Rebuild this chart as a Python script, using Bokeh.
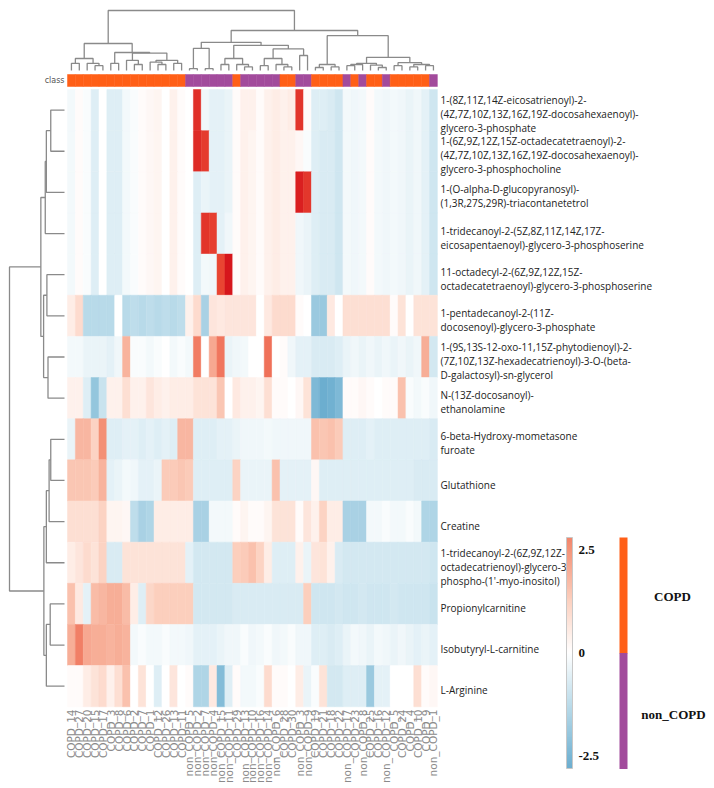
import numpy as np
from math import pi
from bokeh.plotting import figure
from bokeh.models import Range1d, ColumnDataSource, LinearColorMapper, ColorBar, FixedTicker
from bokeh.core.properties import value
from bokeh.embed import file_html
from bokeh.resources import INLINE

# ---- data -------------------------------------------------------------
samples = [
    "COPD_14", "COPD_27", "COPD_20", "COPD_15", "COPD_17", "COPD_3", "COPD_8", "COPD_6",
    "COPD_2", "COPD_7", "COPD_1", "COPD_12", "COPD_26", "COPD_13", "COPD_11",
    "non_COPD_5", "non_COPD_2", "non_COPD_7", "non_COPD_4", "non_COPD_15", "non_COPD_11",
    "COPD_29", "non_COPD_13", "non_COPD_10", "non_COPD_16", "non_COPD_14", "non_COPD_6",
    "COPD_28", "COPD_30", "non_COPD_3", "non_COPD_9", "COPD_19", "COPD_21", "COPD_18",
    "COPD_22", "non_COPD_17", "COPD_23", "non_COPD_8", "COPD_25", "COPD_16", "non_COPD_12",
    "COPD_5", "COPD_24", "COPD_4", "COPD_10", "COPD_9", "non_COPD_1",
]
groups = ["non_COPD" if s.startswith("non") else "COPD" for s in samples]

metabolites = [
    "1-(8Z,11Z,14Z-eicosatrienoyl)-2-\n(4Z,7Z,10Z,13Z,16Z,19Z-docosahexaenoyl)-\nglycero-3-phosphate",
    "1-(6Z,9Z,12Z,15Z-octadecatetraenoyl)-2-\n(4Z,7Z,10Z,13Z,16Z,19Z-docosahexaenoyl)-\nglycero-3-phosphocholine",
    "1-(O-alpha-D-glucopyranosyl)-\n(1,3R,27S,29R)-triacontanetetrol",
    "1-tridecanoyl-2-(5Z,8Z,11Z,14Z,17Z-\neicosapentaenoyl)-glycero-3-phosphoserine",
    "11-octadecyl-2-(6Z,9Z,12Z,15Z-\noctadecatetraenoyl)-glycero-3-phosphoserine",
    "1-pentadecanoyl-2-(11Z-\ndocosenoyl)-glycero-3-phosphate",
    "1-(9S,13S-12-oxo-11,15Z-phytodienoyl)-2-\n(7Z,10Z,13Z-hexadecatrienoyl)-3-O-(beta-\nD-galactosyl)-sn-glycerol",
    "N-(13Z-docosanoyl)-\nethanolamine",
    "6-beta-Hydroxy-mometasone\nfuroate",
    "Glutathione",
    "Creatine",
    "1-tridecanoyl-2-(6Z,9Z,12Z-\noctadecatrienoyl)-glycero-3-\nphospho-(1'-myo-inositol)",
    "Propionylcarnitine",
    "Isobutyryl-L-carnitine",
    "L-Arginine",
]

# z-scores, one list per metabolite, in sample order
z_eicosatrienoyl_pa = [-0.2, 0.1, -0.1, -0.6, 0.0, -0.6, -0.6, -0.2, -0.1, 0.1, 0.2, 0.3, 0.0, 0.4, 0.1,
                       0.0, 4.8, -0.3, -0.5, -0.5, -0.4, 0.1,
                       0.4, 0.4, 0.1, 0.4, 0.5, 0.4, 0.5, 4.6, 0.1,
                       -0.6, -0.6, -0.7, -0.9, -0.2, -0.3, -0.2, 0.1, -0.2, -0.3, -0.2, -0.3, -0.4, -0.3, -0.5, -0.9]
z_octadecatetraenoyl_pc = [-0.2, 0.1, -0.1, -0.6, 0.0, -0.6, -0.6, -0.2, -0.1, 0.1, 0.2, 0.3, 0.0, 0.4, 0.1,
                           0.0, 4.9, 4.4, -0.5, -0.5, -0.4, 0.1,
                           0.4, 0.3, 0.1, 0.4, 0.5, 0.4, 0.4, 0.2, -0.1,
                           -0.6, -0.7, -0.7, -0.9, -0.2, -0.3, -0.2, 0.1, -0.2, -0.3, -0.2, -0.3, -0.4, -0.3, -0.5, -0.9]
z_triacontanetetrol = [-0.2, 0.1, -0.1, -0.6, 0.0, -0.6, -0.6, -0.2, -0.1, 0.1, 0.2, 0.3, 0.0, 0.4, 0.1,
                       0.0, -0.6, -0.4, -0.5, -0.5, -0.4, 0.1,
                       0.4, 0.3, 0.1, 0.4, 0.5, 0.4, 0.4, 5.3, 4.5,
                       -0.6, -0.7, -0.7, -0.9, -0.2, -0.3, -0.2, 0.1, -0.2, -0.3, -0.2, -0.3, -0.4, -0.3, -0.5, -0.9]
z_eicosapentaenoyl_ps = [-0.2, 0.1, -0.1, -0.6, 0.0, -0.6, -0.6, -0.2, -0.1, 0.1, 0.2, 0.3, 0.0, 0.4, 0.1,
                         0.0, -0.6, 4.6, 4.3, -0.5, -0.3, 0.1,
                         0.4, 0.3, 0.1, 0.4, 0.5, 0.4, 0.4, -0.3, -0.4,
                         -0.6, -0.7, -0.7, -0.9, -0.2, -0.3, -0.2, 0.1, -0.2, -0.3, -0.2, -0.3, -0.4, -0.3, -0.5, -0.9]
z_octadecyl_ps = [-0.2, 0.1, -0.1, -0.6, 0.0, -0.6, -0.6, -0.2, -0.1, 0.1, 0.2, 0.3, 0.0, 0.4, 0.1,
                  0.0, -0.6, -0.2, -0.3, 4.1, 5.7, 0.1,
                  0.4, 0.3, 0.1, 0.4, 0.5, 0.4, 0.4, -0.3, -0.4,
                  -0.6, -0.7, -0.7, -0.9, -0.2, -0.3, -0.2, 0.1, -0.2, -0.3, -0.2, -0.3, -0.4, -0.3, -0.5, -0.9]
z_pentadecanoyl_pa = [0.5, 1.0, -1.3, -1.3, -1.3, -1.3, 0.0, -1.3, -1.2, -1.3, -1.2, -1.3, -1.2, -1.3, -1.2,
                      0.4, 1.0, -1.6, 0.7, 0.6, 0.7, 0.7,
                      0.7, 0.7, 0.0, 0.6, 1.0, 1.0, 1.0, 0.1, 0.0,
                      -1.9, -1.9, 0.6, 0.0, 0.9, 0.9, 0.9, 0.9, 0.9, 0.9, 0.1, 0.8, 0.0, 0.8, 0.8, 0.8]
z_galactosyl_glycerol = [-0.2, -0.2, -0.4, -0.4, -0.4, -0.5, -0.3, 1.9, -0.1, -0.1, -0.2, -0.1, 0.0, -0.2, -0.1,
                         -0.2, 3.0, 0.0, 2.1, 3.1, -0.4, -0.3,
                         -0.2, 0.0, 0.0, 3.2, 0.0, 0.1, -0.3, -0.5, -0.5,
                         -0.7, -0.7, -0.7, -0.6, -0.4, -0.3, -0.4, -0.3, -0.4, -0.3, -0.4, -0.3, -0.4, -0.3, 2.0, -0.8]
z_docosanoyl_ea = [0.4, 0.4, -0.6, -2.0, -1.0, 0.4, 0.4, 0.9, 0.4, 0.4, 0.7, 0.5, 0.4, 0.5, 0.5,
                   0.5, 0.8, 0.8, 0.8, 1.5, 0.0, 0.6,
                   0.4, 0.4, 0.3, 0.9, 0.1, 0.1, 0.0, 0.2, 0.8,
                   -2.4, -2.8, -2.7, -2.4, 0.1, 0.1, 0.2, 0.1, 0.0, 0.1, 0.1, 1.6, -0.1, -0.2, -0.1, -0.3]
z_mometasone = [-0.4, 1.8, 1.8, 1.2, 2.6, -0.6, -0.6, -0.5, -0.5, -0.6, -0.5, -0.6, -0.5, -0.6, 1.8,
                1.8, -0.6, -0.6, -0.6, -0.5, -0.5, -0.4,
                -0.3, -0.3, -0.3, -0.2, -0.3, -0.3, -0.3, -0.3, -0.3,
                1.6, 1.5, 1.6, 1.4, -0.6, -0.6, -0.6, -0.5, -0.6, -0.6, -0.6, -0.6, -0.6, -0.6, -0.6, -0.7]
z_glutathione = [1.5, 1.5, 1.5, 1.4, 1.9, -0.5, -0.4, -0.2, -0.3, -0.5, -0.5, -0.4, 1.4, 1.4, 1.5,
                 1.4, -0.6, -0.6, -0.6, -0.6, -0.6, 1.2,
                 -0.4, -0.4, -0.4, -0.4, 1.6, -0.5, -0.5, -0.5, -0.5,
                 0.2, -0.6, -0.6, -0.6, -0.6, -0.6, -0.6, -0.6, -0.6, -0.6, -0.6, -0.6, -0.6, -0.7, -0.7, -0.7]
z_creatine = [0.9, 0.9, 0.9, 0.9, 1.2, 0.3, 0.3, 0.2, -1.2, -1.6, -1.5, 0.5, 0.5, 0.5, 0.5,
              0.5, -1.6, -1.6, -0.2, -0.2, -0.2, 0.1,
              0.3, 0.1, 0.1, 0.3, 0.8, 0.8, 0.8, 0.1, 0.7,
              0.4, 1.2, 0.5, 0.5, -1.6, -1.6, -1.6, -0.2, -0.2, -0.1, -0.2, -0.2, -0.1, -0.2, -1.5, -1.5]
z_phospho_inositol = [0.5, 0.7, 1.0, 0.8, 1.2, -0.7, -0.7, 0.8, 0.8, 0.8, 0.8, 0.8, 0.8, 0.8, 0.8,
                      -0.5, -0.8, -0.8, -0.8, -0.8, -0.8, 1.3,
                      1.4, 1.6, 1.2, 0.5, -0.6, -0.6, -0.6, 0.4, -0.4,
                      0.7, 0.8, 0.4, -0.7, -0.8, -0.8, -0.8, -0.8, -0.8, -0.8, -0.8, -0.8, -0.8, -0.8, -0.8, -0.9]
z_propionylcarnitine = [1.6, 0.6, -0.5, 1.7, 1.8, 2.0, 2.0, 1.7, 0.5, -0.6, 1.1, 1.3, 1.3, 1.3, 1.3,
                        1.3, -0.8, -0.8, -0.8, -0.8, -0.8, -0.7,
                        -0.7, -0.7, -0.7, -0.7, -0.7, -0.7, -0.7, -0.7, 1.3,
                        -0.9, -0.9, -0.9, -0.8, -0.9, -0.9, -0.8, -0.9, -0.9, -0.9, -0.8, -0.9, -0.9, -0.9, -0.9, -1.0]
z_isobutyrylcarnitine = [2.0, 2.9, 2.1, 2.0, 2.0, 1.9, 2.0, 1.9, -0.2, -0.1, -0.2, -0.2, -0.1, -0.2, -0.2,
                         -0.3, -0.5, -0.5, -0.5, -0.4, -0.3, -0.3,
                         -0.1, -0.3, -0.2, -0.1, -0.3, -0.2, -0.1, -0.3, -0.3,
                         -0.6, -0.6, -0.7, -0.6, -0.4, -0.2, -0.3, -0.4, -0.2, -0.3, -0.4, -0.3, -0.4, -0.5, -0.4, -0.5]
z_arginine = [0.1, 0.1, 0.5, 0.8, 1.0, 0.4, 0.9, 1.6, 0.0, 0.8, 0.0, -0.6, 0.0, 0.7, 0.0,
              0.1, -1.5, -1.5, 0.6, -2.3, -0.6, 0.1,
              -0.2, -0.2, -0.1, 1.0, 0.1, 0.1, 0.0, 0.5, -0.4,
              -0.1, 0.8, -0.8, -0.8, -0.6, -0.6, -0.6, -1.9, -0.5, -0.5, 0.0, 0.0, 0.0, 0.9, 0.1, 0.2]

zscores = [z_eicosatrienoyl_pa, z_octadecatetraenoyl_pc, z_triacontanetetrol, z_eicosapentaenoyl_ps,
           z_octadecyl_ps, z_pentadecanoyl_pa, z_galactosyl_glycerol, z_docosanoyl_ea, z_mometasone,
           z_glutathione, z_creatine, z_phospho_inositol, z_propionylcarnitine, z_isobutyrylcarnitine,
           z_arginine]

# hierarchical clustering trees: (left, right, merge height), leaves are display positions
sample_tree = (
    (((0, 1, 0.12), (2, (3, 4, 0.08), 0.12), 0.20),
     ((5, 6, 0.12),
      ((7, (8, 9, 0.10), 0.17), ((10, (11, 12, 0.10), 0.14), (13, 14, 0.12), 0.17), 0.29),
      0.30),
     0.45),
    ((((15, 16, 0.03), (17, 18, 0.03), 0.37),
      (((19, 20, 0.10), (21, (22, 23, 0.06), 0.10), 0.20),
       (((24, 25, 0.08), (26, (27, 28, 0.06), 0.10), 0.20), (29, 30, 0.25), 0.36),
       0.42),
      0.47),
     (((31, 32, 0.05), (33, 34, 0.06), 0.10),
      ((((35, 36, 0.08), 37, 0.10), (38, (39, 40, 0.05), 0.09), 0.12),
       ((41, 42, 0.08), ((43, 44, 0.06), (45, 46, 0.08), 0.10), 0.13),
       0.22),
      0.58),
     0.667),
    1.0)

metabolite_tree = (
    (((((0, 1, 0.25), 2, 0.33), 3, 0.35), ((4, 5, 0.32), (6, 7, 0.30), 0.38), 0.43)),
    ((((8, 9, 0.25), 10, 0.28), 11, 0.33), ((12, 13, 0.26), 14, 0.33), 0.375),
    1.0)

group_names = ["COPD", "non_COPD"]
group_colors = ["#ff5f17", "#a24b9c"]

# ---- layout (pixel geometry of the heatmap block) ----------------------
W, H = 714, 788
X0, CW = 67.0, 7.87     # heatmap left edge, column width
Y0, RH = 89.0, 41.15    # heatmap top edge, row height


def px_x(px):
    return (px - X0) / CW


def px_y(py):
    return (py - Y0) / RH


stops = [(-3.5, "#4e9ac3"), (-2.5, "#7ab7d5"), (-1.25, "#bcdcea"), (0.0, "#ffffff"),
         (1.25, "#fcd2c1"), (2.5, "#f4957a"), (4.0, "#ea4834"), (5.6, "#d6161c")]


def blend(lo, hi, n):
    sv = [s for s, _ in stops]
    rgb = np.array([[int(c[i:i + 2], 16) for i in (1, 3, 5)] for _, c in stops], float)
    out = []
    for v in np.linspace(lo, hi, n):
        r = [int(round(np.interp(v, sv, rgb[:, k]))) for k in range(3)]
        out.append("#%02x%02x%02x" % tuple(r))
    return out


p = figure(width=W, height=H, x_range=Range1d(px_x(0), px_x(W)),
           y_range=Range1d(px_y(H), px_y(0)), output_backend="svg",
           toolbar_location=None, x_axis_type=None, y_axis_type=None, min_border=0)
p.outline_line_color = None
p.background_fill_color = "white"
p.border_fill_color = "white"

n_rows, n_cols = len(metabolites), len(samples)

# heatmap cells
cx, cy, cv = [], [], []
for r, row in enumerate(zscores):
    for c, v in enumerate(row):
        cx.append(c + 0.5)
        cy.append(r + 0.5)
        cv.append(v)
heat_mapper = LinearColorMapper(palette=blend(-3.5, 5.6, 256), low=-3.5, high=5.6)
p.rect(x="x", y="y", width=1, height=1,
       source=ColumnDataSource(dict(x=cx, y=cy, v=cv)),
       fill_color={"field": "v", "transform": heat_mapper},
       line_color={"field": "v", "transform": heat_mapper}, line_width=0.5)

# class annotation bar
bar_top, bar_bot = px_y(74), px_y(86)
p.rect(x=[c + 0.5 for c in range(n_cols)], y=(bar_top + bar_bot) / 2, width=1,
       height=bar_bot - bar_top,
       fill_color=[group_colors[group_names.index(g)] for g in groups],
       line_color=[group_colors[group_names.index(g)] for g in groups], line_width=0.5)
p.text(x=[px_x(64)], y=[(bar_top + bar_bot) / 2], text=["class"], text_align="right",
       text_baseline="middle", text_font=value("DejaVu Sans"), text_font_size="8px",
       text_color="#555555")


# dendrograms
def dendro(node, segs):
    if isinstance(node, int):
        return node + 0.5, 0.0
    a, b, h = node
    ca, ha = dendro(a, segs)
    cb, hb = dendro(b, segs)
    segs.append(([ca, ca, cb, cb], [ha, h, h, hb]))
    return (ca + cb) / 2, h


col_segs = []
dendro(sample_tree, col_segs)
base, span = px_y(70), (70 - 10) / RH
p.multi_line(xs=[s[0] for s in col_segs],
             ys=[[base - h * span for h in s[1]] for s in col_segs],
             line_color="#8a8a8a", line_width=1.3)

row_segs = []
dendro(metabolite_tree, row_segs)
base_x, span_x = px_x(64), (64 - 9) / CW
p.multi_line(xs=[[base_x - h * span_x for h in s[1]] for s in row_segs],
             ys=[s[0] for s in row_segs],
             line_color="#8a8a8a", line_width=1.3)

# sample labels
p.text(x=[c + 0.5 for c in range(n_cols)], y=px_y(709), text=samples, angle=pi / 2,
       text_align="right", text_baseline="middle", text_font=value("DejaVu Sans"),
       text_font_size="10.5px", text_color="#8a8a8a")

# metabolite labels
p.text(x=px_x(440), y=[r + 0.6 for r in range(n_rows)], text=metabolites,
       text_align="left", text_baseline="middle", text_font=value("Open Sans"),
       text_font_size="10px", text_line_height=1.0, text_color="#222222")

# colour scale
cb_mapper = LinearColorMapper(palette=blend(-2.8, 2.8, 128), low=-2.8, high=2.8)
cbar = ColorBar(color_mapper=cb_mapper, location=(566, 20), width=6, height=231,
                padding=0, ticker=FixedTicker(ticks=[-2.5, 0, 2.5]),
                major_label_overrides={2.5: "2.5", 0: "0", -2.5: "-2.5"},
                major_label_text_font="Liberation Serif",
                major_label_text_font_style="bold", major_label_text_font_size="13px",
                major_label_text_color="#111111", major_tick_line_color=None,
                minor_tick_line_color=None, bar_line_color="#c8c8c8",
                background_fill_alpha=0, border_line_color=None, label_standoff=6)
p.add_layout(cbar)

# class legend
leg_top, leg_mid, leg_bot = px_y(537), px_y(653), px_y(768)
p.rect(x=px_x(623), y=[(leg_top + leg_mid) / 2, (leg_mid + leg_bot) / 2], width=8 / CW,
       height=leg_mid - leg_top, fill_color=group_colors, line_color=None)
p.text(x=[px_x(672), px_x(673)], y=[px_y(596), px_y(714)], text=group_names,
       text_align="center", text_baseline="middle", text_font=value("Liberation Serif"),
       text_font_style="bold", text_font_size="13px", text_color="#111111")

open("out.html", "w").write(file_html(p, INLINE))
